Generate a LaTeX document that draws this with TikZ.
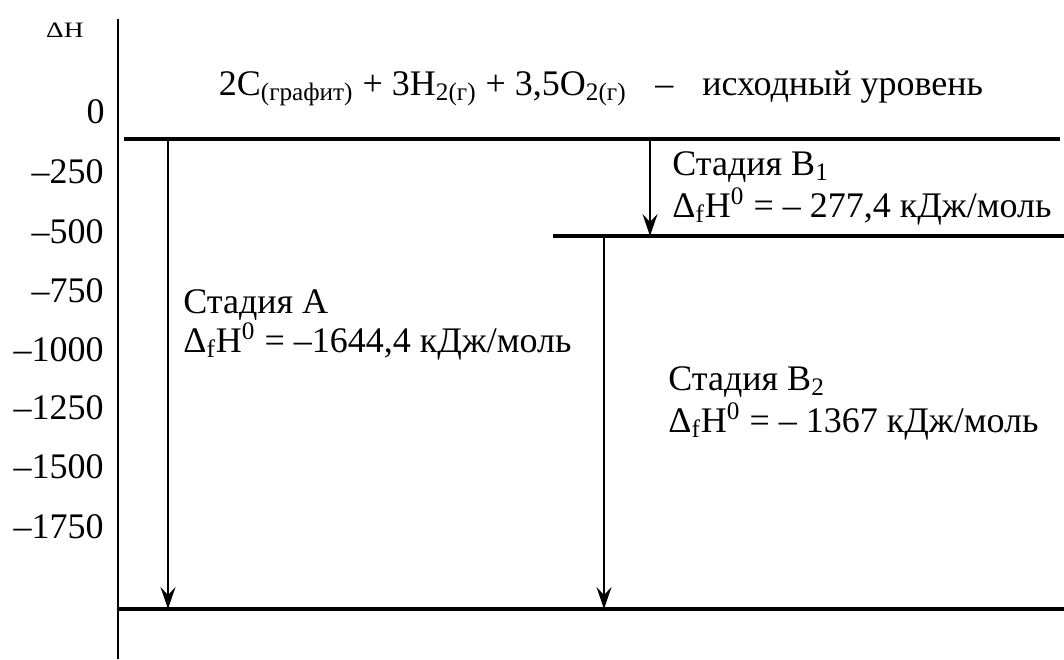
\documentclass[tikz,border=0pt]{standalone}
\usepackage{fontspec}
\setmainfont{Liberation Serif}
\usetikzlibrary{arrows.meta}
\begin{document}
\begin{tikzpicture}[x=0.5pt,y=-0.5pt,
  level/.style={line width=2pt},
  axisline/.style={line width=1pt},
  stagearrow/.style={line width=0.9pt,-{Stealth[length=11pt,width=7.5pt,inset=4pt]}},
  ticklbl/.style={anchor=base east,inner sep=0pt,font=\fontsize{18}{22}\selectfont},
  lbl/.style={anchor=base west,inner sep=0pt,font=\fontsize{18}{22}\selectfont}
]
\useasboundingbox (0,0) rectangle (1064,659);
% axis
\coordinate (axT) at (118,19);
\coordinate (axB) at (118,659);
\draw[axisline] (axT) -- (axB);
\node[inner sep=0pt,font=\fontsize{11}{13}\selectfont] (dH) at (65,30) {\scalebox{1.25}[1]{ΔH}};
% tick labels
\node[ticklbl] (t0) at (105,123) {0};
\node[ticklbl] (t1) at (104,183) {–250};
\node[ticklbl] (t2) at (104,243) {–500};
\node[ticklbl] (t3) at (104,302) {–750};
\node[ticklbl] (t4) at (104,361) {–1000};
\node[ticklbl] (t5) at (104,419) {–1250};
\node[ticklbl] (t6) at (104,478) {–1500};
\node[ticklbl] (t7) at (104,538) {–1750};
% levels
\coordinate (L0w) at (124,139);
\coordinate (L0e) at (1060,139);
\coordinate (L1w) at (553,236);
\coordinate (L1e) at (1064,236);
\coordinate (L2w) at (118,609);
\coordinate (L2e) at (1064,609);
\draw[level] (L0w) -- (L0e);
\draw[level] (L1w) -- (L1e);
\draw[level] (L2w) -- (L2e);
% arrows
\coordinate (aT) at (168,139);
\coordinate (aB) at (168,609);
\coordinate (b1T) at (650,137);
\coordinate (b1B) at (650,236);
\coordinate (b2T) at (604,236);
\coordinate (b2B) at (604,609);
\draw[stagearrow] (aT) -- (aB);
\draw[stagearrow] (b1T) -- (b1B);
\draw[stagearrow] (b2T) -- (b2B);
% top label
\node[anchor=base,inner sep=0pt,font=\fontsize{18}{22}\selectfont] (top) at (601,95)
  {2C\textsubscript{(графит)} + 3H\textsubscript{2(г)} + 3,5O\textsubscript{2(г)}\hspace{0.8em}–\hspace{0.8em}исходный уровень};
% stage labels
\node[lbl] (A1) at (183,313) {Стадия А};
\node[lbl] (A2) at (183,352) {Δ\textsubscript{f}H\textsuperscript{0} = –1644,4 кДж/моль};
\node[lbl] (B11) at (672,175) {Стадия В\textsubscript{1}};
\node[lbl] (B12) at (672,217) {Δ\textsubscript{f}H\textsuperscript{0} = – 277,4 кДж/моль};
\node[lbl] (B21) at (668,390) {Стадия В\textsubscript{2}};
\node[lbl] (B22) at (668,432) {Δ\textsubscript{f}H\textsuperscript{0} = – 1367 кДж/моль};
\end{tikzpicture}
\end{document}
